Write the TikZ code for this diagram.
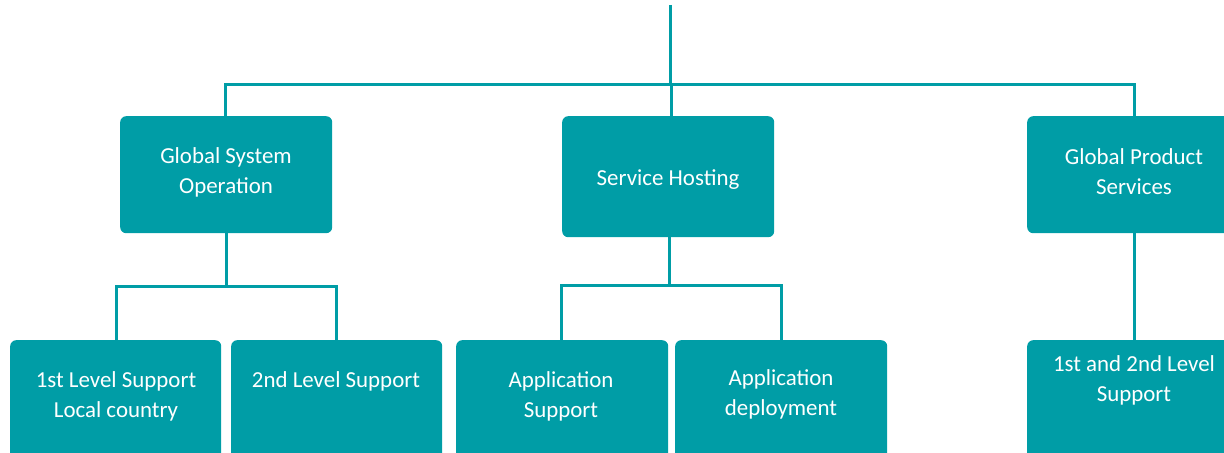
\documentclass[tikz,border=0pt]{standalone}
\usepackage{fontspec}
\setmainfont{Carlito}
\definecolor{teal1}{RGB}{0,157,166}
\begin{document}
\begin{tikzpicture}[x=1bp,y=-1bp,
  box/.style={fill=teal1,draw=none,rounded corners=6bp,anchor=north west,inner sep=0pt},
  txt/.style={text=white,font=\fontsize{23}{30}\selectfont,align=center,inner sep=0pt},
  conn/.style={draw=teal1,line width=3bp}]
\useasboundingbox (0,0) rectangle (1224,453);
\clip (0,0) rectangle (1224,453);
% top-level boxes
\node[box,minimum width=212bp,minimum height=117bp] (gso) at (120,116) {};
\node[box,minimum width=212bp,minimum height=121bp] (sh) at (562,116) {};
\node[box,minimum width=230bp,minimum height=117bp] (gps) at (1027,116) {};
\node[txt] (gsot) at (226,172) {Global System\\Operation};
\node[txt] (sht) at (668,180) {Service Hosting};
\node[txt] (gpst) at (1134,172) {Global Product\\Services};
% bottom boxes
\node[box,minimum width=211bp,minimum height=140bp] (l1) at (10,340) {};
\node[box,minimum width=211bp,minimum height=140bp] (l2) at (231,340) {};
\node[box,minimum width=212bp,minimum height=140bp] (as) at (456,340) {};
\node[box,minimum width=212bp,minimum height=140bp] (ad) at (675,340) {};
\node[box,minimum width=230bp,minimum height=140bp] (l12) at (1027,340) {};
\node[txt] (l1t) at (116,396) {1st Level Support\\Local country};
\node[txt] (l2t) at (336,381) {2nd Level Support};
\node[txt] (ast) at (561,396) {Application\\Support};
\node[txt] (adt) at (781,394) {Application\\deployment};
\node[txt] (l12t) at (1134,380) {1st and 2nd Level\\Support};
% connectors
\coordinate (top) at (670,5);
\coordinate (bar) at (670,85);
\coordinate (gsoJ) at (226,287);
\coordinate (shJ) at (669,286);
\draw[conn] (top) -- (bar);
\draw[conn] (gso.north -| 225,0) |- (bar) -| (gps.north -| 1134,0);
\draw[conn] (bar -| 671,0) -- (sh.north -| 671,0);
\draw[conn] (gso.south -| 226,0) -- (gsoJ);
\draw[conn] (l1.north -| 116,0) |- (gsoJ) -| (l2.north -| 336,0);
\draw[conn] (sh.south -| 669,0) -- (shJ);
\draw[conn] (as.north -| 561,0) |- (shJ) -| (ad.north -| 781,0);
\draw[conn] (gps.south -| 1134,0) -- (l12.north -| 1134,0);
\end{tikzpicture}
\end{document}
